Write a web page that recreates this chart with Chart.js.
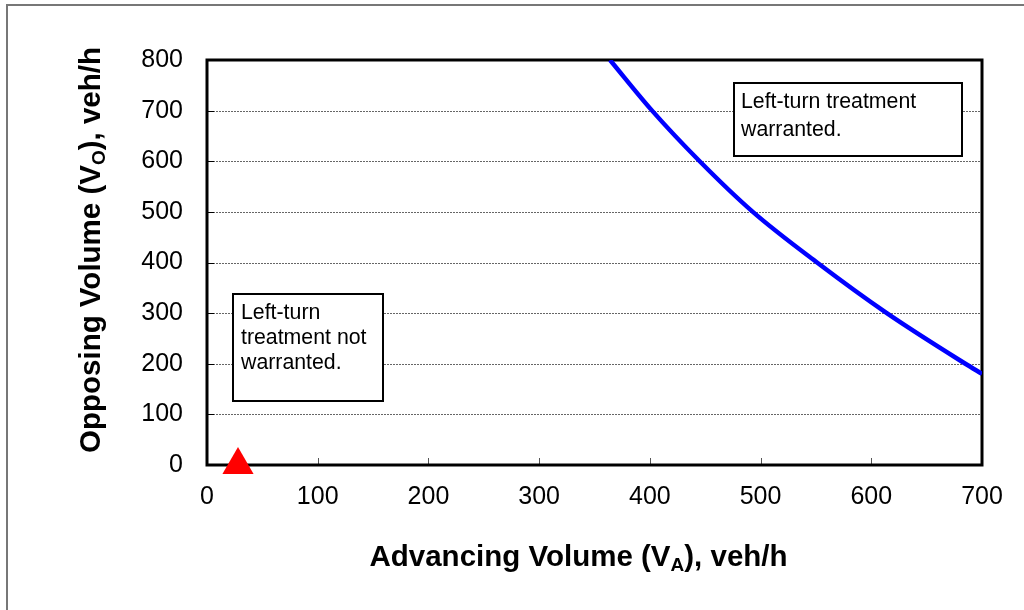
<!DOCTYPE html>
<html>
<head>
<meta charset="utf-8">
<script src="https://cdn.jsdelivr.net/npm/chart.js@4/dist/chart.umd.min.js"></script>
<style>
  html, body { margin: 0; padding: 0; background: #fff; }
  #wrap { width: 1024px; height: 610px; position: relative; }
</style>
</head>
<body>
<div id="wrap"><canvas id="c" width="1024" height="610"></canvas></div>
<script>
// ---- data ----
const curveAdvancing = [364, 402, 445, 493, 551, 614, 685, 700];
const curveOpposing  = [800, 700, 600, 500, 400, 300, 200, 180];
const markerAdvancing = [28];
const markerOpposing  = [0];
const xTickValues = [0, 100, 200, 300, 400, 500, 600, 700];
const yTickValues = [0, 100, 200, 300, 400, 500, 600, 700, 800];
const xTitleParts = [["Advancing Volume (V", false], ["A", true], ["), veh/h", false]];
const yTitleParts = [["Opposing Volume (V", false], ["O", true], ["), veh/h", false]];
const boxWarranted = ["Left-turn treatment", "warranted."];
const boxNotWarranted = ["Left-turn", "treatment not", "warranted."];

const FONT = '"Liberation Sans", Arial, sans-serif';
Chart.defaults.font.family = FONT;
Chart.defaults.color = '#000';

const TITLE_SIZE = 29.5, SUB_SIZE = 19;

function drawParts(ctx, parts, mainSize, subSize, subShift) {
  let x = 0;
  for (const [t, sub] of parts) {
    ctx.font = 'bold ' + (sub ? subSize : mainSize) + 'px ' + FONT;
    ctx.fillText(t, x, sub ? subShift : 0);
    x += ctx.measureText(t).width;
  }
  return x;
}
function measureParts(ctx, parts, mainSize, subSize) {
  let w = 0;
  for (const [t, sub] of parts) {
    ctx.font = 'bold ' + (sub ? subSize : mainSize) + 'px ' + FONT;
    w += ctx.measureText(t).width;
  }
  return w;
}
function drawBox(ctx, x, y, w, h, lines, tx, baseline0, lh) {
  ctx.save();
  ctx.fillStyle = '#fff';
  ctx.fillRect(x, y, w, h);
  ctx.lineWidth = 2;
  ctx.strokeStyle = '#000';
  ctx.strokeRect(x, y, w, h);
  ctx.fillStyle = '#000';
  ctx.font = '21.3px ' + FONT;
  ctx.textAlign = 'left';
  ctx.textBaseline = 'alphabetic';
  lines.forEach((l, i) => ctx.fillText(l, tx, baseline0 + i * lh));
  ctx.restore();
}

const decor = {
  id: 'decor',
  beforeDraw(chart) {
    const ctx = chart.ctx;
    ctx.save();
    ctx.fillStyle = '#fff';
    ctx.fillRect(0, 0, chart.width, chart.height);
    ctx.strokeStyle = '#777';
    ctx.lineWidth = 2;
    ctx.beginPath();
    ctx.moveTo(7, 610);
    ctx.lineTo(7, 5);
    ctx.lineTo(1024, 5);
    ctx.stroke();
    ctx.restore();
  },
  beforeDatasetsDraw(chart) {
    const ctx = chart.ctx;
    const a = chart.chartArea;
    const xs = chart.scales.x, ys = chart.scales.y;
    ctx.save();
    ctx.strokeStyle = '#666';
    ctx.lineWidth = 1;
    ctx.setLineDash([2, 1]);
    yTickValues.forEach(v => {
      if (v === 0 || v === 800) return;
      const py = Math.round(ys.getPixelForValue(v)) + 0.5;
      ctx.beginPath();
      ctx.moveTo(a.left, py);
      ctx.lineTo(a.right, py);
      ctx.stroke();
    });
    ctx.setLineDash([]);
    ctx.strokeStyle = '#000';
    yTickValues.forEach(v => {
      if (v === 0 || v === 800) return;
      const py = Math.round(ys.getPixelForValue(v)) + 0.5;
      ctx.beginPath();
      ctx.moveTo(a.left, py);
      ctx.lineTo(a.left + 7, py);
      ctx.stroke();
    });
    ctx.strokeStyle = '#555';
    xTickValues.forEach(v => {
      if (v === 0 || v === 700) return;
      const px = Math.round(xs.getPixelForValue(v)) + 0.5;
      ctx.beginPath();
      ctx.moveTo(px, a.bottom);
      ctx.lineTo(px, a.bottom - 7);
      ctx.stroke();
    });
    ctx.strokeStyle = '#000';
    ctx.lineWidth = 3;
    ctx.strokeRect(a.left, a.top, a.right - a.left, a.bottom - a.top);
    ctx.restore();
  },
  afterDatasetsDraw(chart) {
    const ctx = chart.ctx;
    drawBox(ctx, 734, 83, 228, 73, boxWarranted, 741, 108, 28);
    drawBox(ctx, 233, 294, 150, 107, boxNotWarranted, 241, 319, 25);
  },
  afterDraw(chart) {
    const ctx = chart.ctx;
    ctx.save();
    ctx.fillStyle = '#000';
    ctx.textAlign = 'left';
    ctx.textBaseline = 'alphabetic';
    const wx = measureParts(ctx, xTitleParts, TITLE_SIZE, SUB_SIZE);
    ctx.save();
    ctx.translate(578.5 - wx / 2, 566);
    drawParts(ctx, xTitleParts, TITLE_SIZE, SUB_SIZE, 5);
    ctx.restore();
    const wy = measureParts(ctx, yTitleParts, TITLE_SIZE, SUB_SIZE);
    ctx.save();
    ctx.translate(100, 250 + wy / 2);
    ctx.rotate(-Math.PI / 2);
    drawParts(ctx, yTitleParts, TITLE_SIZE, SUB_SIZE, 5);
    ctx.restore();
    ctx.restore();
  }
};

const curveData = curveAdvancing.map((x, i) => ({ x, y: curveOpposing[i] }));
const markerData = markerAdvancing.map((x, i) => ({ x, y: markerOpposing[i] }));

new Chart(document.getElementById('c'), {
  type: 'scatter',
  data: {
    datasets: [
      {
        data: curveData,
        showLine: true,
        borderColor: '#0000ff',
        borderWidth: 4.5,
        pointRadius: 0,
        cubicInterpolationMode: 'monotone',
        fill: false
      },
      {
        data: markerData,
        pointStyle: 'triangle',
        pointRadius: 18,
        backgroundColor: '#ff0000',
        borderColor: '#ff0000',
        borderWidth: 0,
        clip: false
      }
    ]
  },
  options: {
    responsive: false,
    animation: false,
    events: [],
    layout: { padding: { top: 60, right: 42, left: 0, bottom: 0 } },
    plugins: { legend: { display: false }, tooltip: { enabled: false } },
    scales: {
      x: {
        type: 'linear', min: 0, max: 700,
        afterBuildTicks: s => { s.ticks = xTickValues.map(v => ({ value: v })); },
        ticks: { font: { size: 25 }, color: '#000', padding: 17, maxRotation: 0 },
        grid: { display: false, drawTicks: false },
        border: { display: false },
        afterFit: s => { s.height = 145; }
      },
      y: {
        type: 'linear', min: 0, max: 800,
        afterBuildTicks: s => { s.ticks = yTickValues.map(v => ({ value: v })); },
        ticks: { font: { size: 25 }, color: '#000', padding: 24 },
        grid: { display: false, drawTicks: false },
        border: { display: false },
        afterFit: s => { s.width = 207; }
      }
    }
  },
  plugins: [decor]
});
</script>
</body>
</html>
